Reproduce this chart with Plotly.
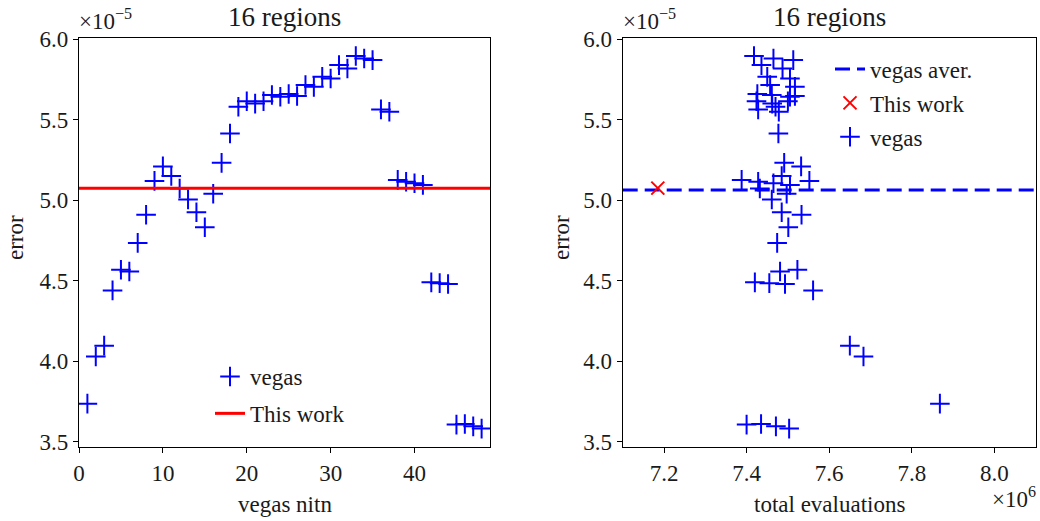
import plotly.graph_objects as go

# ---- data (error in units of 1e-5, evaluations in units of 1e6) ----
nitn = list(range(1, 49))
vegas_error = [3.737, 4.03, 4.097, 4.44, 4.568, 4.557, 4.735, 4.91, 5.12, 5.21,
               5.15, 5.073, 5.004, 4.925, 4.832, 5.04, 5.232, 5.414, 5.58, 5.614,
               5.60, 5.614, 5.653, 5.642, 5.659, 5.647, 5.715, 5.704, 5.766, 5.756,
               5.839, 5.818, 5.895, 5.880, 5.870, 5.564, 5.549, 5.126, 5.115, 5.105,
               5.095, 4.49, 4.485, 4.48, 3.607, 3.611, 3.596, 3.582]
vegas_evals = [7.868, 7.683, 7.65, 7.561, 7.523, 7.481, 7.474, 7.533, 7.552, 7.532,
               7.485, 7.432, 7.461, 7.485, 7.501, 7.497, 7.491, 7.477, 7.47, 7.424,
               7.462, 7.50, 7.461, 7.505, 7.426, 7.517, 7.457, 7.517, 7.45, 7.505,
               7.436, 7.487, 7.418, 7.465, 7.513, 7.428, 7.478, 7.388, 7.428, 7.465,
               7.505, 7.42, 7.455, 7.493, 7.40, 7.435, 7.471, 7.503]
this_work_error = 5.075
this_work_evals = 7.185
vegas_aver = 5.064

y_ticks = [3.5, 4.0, 4.5, 5.0, 5.5, 6.0]
x1_ticks = [0, 10, 20, 30, 40]
x2_ticks = [7.2, 7.4, 7.6, 7.8, 8.0]
x1_range = [0, 49]
x2_range = [7.1, 8.1]
y_range = [3.466, 6.009]

W, H = 1040, 521
FONT = "Liberation Serif"
TXT = "#1a1a1a"
BLUE = "#0000ff"
RED = "#ff0000"
FS = 23


def px(x):
    return x / W


def py(y):
    return 1 - y / H


fig = go.Figure()

cross = dict(symbol="cross-thin", size=14, line=dict(color=BLUE, width=2), color=BLUE)

# left panel
fig.add_trace(go.Scatter(x=nitn, y=vegas_error, mode="markers", marker=cross,
                         name="vegas", xaxis="x", yaxis="y", legend="legend",
                         legendgroup="a1"))
fig.add_trace(go.Scatter(x=x1_range, y=[this_work_error] * 2, mode="lines",
                         line=dict(color=RED, width=3), name="This work",
                         xaxis="x", yaxis="y", legend="legend", legendgroup="a2"))

# right panel
fig.add_trace(go.Scatter(x=x2_range, y=[vegas_aver] * 2, mode="lines",
                         line=dict(color=BLUE, width=3, dash="15px,7px"),
                         name="vegas aver.", xaxis="x2", yaxis="y2",
                         legend="legend2", legendgroup="b1"))
fig.add_trace(go.Scatter(x=[this_work_evals], y=[this_work_error], mode="markers",
                         marker=dict(symbol="x-thin", size=13, color=RED,
                                     line=dict(color=RED, width=2)),
                         name="This work", xaxis="x2", yaxis="y2",
                         legend="legend2", legendgroup="b2"))
fig.add_trace(go.Scatter(x=vegas_evals, y=vegas_error, mode="markers", marker=cross,
                         name="vegas", xaxis="x2", yaxis="y2", legend="legend2",
                         legendgroup="b3"))

axis_common = dict(showline=True, mirror=True, linecolor="black", linewidth=1.3,
                   ticks="outside", ticklen=5, tickwidth=1.3, tickcolor="black",
                   showgrid=False, zeroline=False, automargin=False,
                   tickfont=dict(family=FONT, size=FS, color=TXT))

fig.update_layout(
    template="none",
    width=W, height=H,
    margin=dict(l=0, r=0, t=0, b=0, pad=0, autoexpand=False),
    paper_bgcolor="white", plot_bgcolor="white",
    font=dict(family=FONT, size=FS, color=TXT),
    xaxis=dict(domain=[px(79), px(490)], range=x1_range, tickvals=x1_ticks,
               anchor="y", **axis_common),
    yaxis=dict(domain=[py(447.3), py(37.7)], range=y_range, tickvals=y_ticks,
               tickformat=".1f", anchor="x", **axis_common),
    xaxis2=dict(domain=[px(622.7), px(1035.7)], range=x2_range, tickvals=x2_ticks,
                tickformat=".1f", anchor="y2", **axis_common),
    yaxis2=dict(domain=[py(447.3), py(37.7)], range=y_range, tickvals=y_ticks,
                tickformat=".1f", anchor="x2", **axis_common),
    legend=dict(x=px(210), y=py(395), xanchor="left", yanchor="middle",
                bgcolor="rgba(0,0,0,0)", traceorder="grouped", tracegroupgap=4,
                font=dict(family=FONT, size=FS, color=TXT)),
    legend2=dict(x=px(830), y=py(103), xanchor="left", yanchor="middle",
                 bgcolor="rgba(0,0,0,0)", traceorder="grouped", tracegroupgap=1,
                 font=dict(family=FONT, size=FS, color=TXT)),
    showlegend=True,
)

ann = []
# titles
for cx in [(79 + 490) / 2, (622.7 + 1035.7) / 2]:
    ann.append(dict(text="16 regions", x=px(cx), y=py(17), xref="paper", yref="paper",
                    xanchor="center", yanchor="middle", showarrow=False,
                    font=dict(family=FONT, size=27, color=TXT)))
# multipliers
for lx in [77, 620.7]:
    ann.append(dict(text="×10<sup>−5</sup>", x=px(lx), y=py(36), xref="paper",
                    yref="paper", xanchor="left", yanchor="bottom", showarrow=False,
                    font=dict(family=FONT, size=FS, color=TXT)))
ann.append(dict(text="×10<sup>6</sup>", x=px(1038), y=py(497), xref="paper",
                yref="paper", xanchor="right", yanchor="middle", showarrow=False,
                font=dict(family=FONT, size=FS, color=TXT)))
# axis titles
ann.append(dict(text="vegas nitn", x=px((79 + 490) / 2), y=py(504), xref="paper",
                yref="paper", xanchor="center", yanchor="middle", showarrow=False,
                font=dict(family=FONT, size=FS, color=TXT)))
ann.append(dict(text="total evaluations", x=px((622.7 + 1035.7) / 2), y=py(504),
                xref="paper", yref="paper", xanchor="center", yanchor="middle",
                showarrow=False, font=dict(family=FONT, size=FS, color=TXT)))
for ex in [15, 561]:
    ann.append(dict(text="error", x=px(ex), y=py(238), xref="paper", yref="paper",
                    xanchor="center", yanchor="middle", textangle=-90,
                    showarrow=False, font=dict(family=FONT, size=FS, color=TXT)))
fig.update_layout(annotations=ann)

fig.write_html("out.html")
